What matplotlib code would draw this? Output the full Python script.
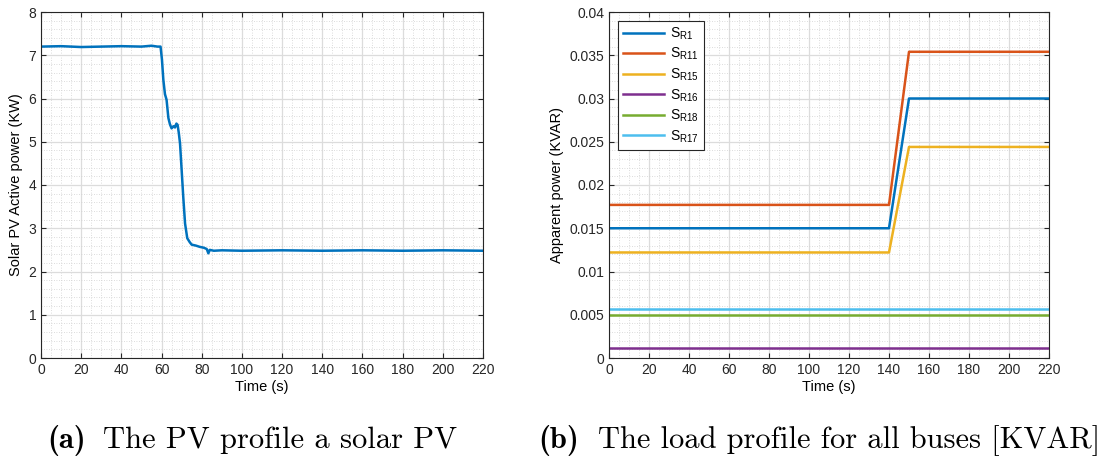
import matplotlib
matplotlib.use("Agg")
import matplotlib.pyplot as plt
from matplotlib.ticker import MultipleLocator

plt.rcParams["font.family"] = ["Liberation Sans", "DejaVu Sans"]
plt.rcParams["axes.unicode_minus"] = False

# PV active power
pv_t = [0, 10, 20, 30, 40, 50, 55, 58, 59.5, 60.2, 60.9, 61.7, 62.5, 63.4, 64.2, 65, 66,
        66.7, 67.4, 68, 68.6, 69.2, 70, 70.8, 71.7, 72.8, 74, 75, 77, 79, 81, 82.5, 83.3,
        84, 86, 90, 100, 120, 140, 160, 180, 200, 220]
pv_p = [7.2, 7.21, 7.19, 7.2, 7.21, 7.2, 7.22, 7.2, 7.2, 6.9, 6.43, 6.1, 5.97, 5.55, 5.4,
        5.31, 5.36, 5.33, 5.42, 5.39, 5.2, 4.96, 4.35, 3.73, 3.11, 2.77, 2.68, 2.62, 2.6,
        2.57, 2.55, 2.52, 2.42, 2.5, 2.48, 2.49, 2.48, 2.49, 2.48, 2.49, 2.48, 2.49, 2.48]

# load profile, panel (b): value before / after the step at 140-150 s
load_t = [0, 140, 150, 220]
load_names = ["$\\mathregular{S_{R1}}$", "$\\mathregular{S_{R11}}$", "$\\mathregular{S_{R15}}$",
              "$\\mathregular{S_{R16}}$", "$\\mathregular{S_{R18}}$", "$\\mathregular{S_{R17}}$"]
load_before = [0.0150, 0.0177, 0.0122, 0.0011, 0.0050, 0.0057]
load_after = [0.0300, 0.0354, 0.0244, 0.0011, 0.0050, 0.0057]
colors = ["#0072BD", "#D95319", "#EDB120", "#7E2F8E", "#77AC30", "#4DBEEE"]
y2_ticks = [0, 0.005, 0.01, 0.015, 0.02, 0.025, 0.03, 0.035, 0.04]
y2_labels = ["0", "0.005", "0.01", "0.015", "0.02", "0.025", "0.03", "0.035", "0.04"]


def style(ax):
    ax.set_xlim(0, 220)
    ax.xaxis.set_major_locator(MultipleLocator(20))
    ax.xaxis.set_minor_locator(MultipleLocator(5))
    ax.tick_params(which="both", direction="in", top=True, right=True, labelsize=10,
                   color="#262626", labelcolor="#262626")
    ax.tick_params(which="minor", length=0)
    ax.grid(which="major", color="#dcdcdc", lw=0.9)
    ax.grid(which="minor", color="#d0d0d0", lw=0.6, ls=(0, (1, 2)))
    ax.set_axisbelow(True)
    for s in ax.spines.values():
        s.set_color("#262626")
        s.set_linewidth(0.8)
    ax.set_xlabel("Time (s)", fontsize=10.5, labelpad=2)


fig = plt.figure(figsize=(11.06, 4.57), dpi=100)
ax1 = fig.add_axes([41 / 1106, 1 - 358 / 457, 442 / 1106, 346 / 457])
ax2 = fig.add_axes([609 / 1106, 1 - 358 / 457, 440 / 1106, 346 / 457])

ax1.plot(pv_t, pv_p, color="#0072BD", lw=1.8)
style(ax1)
ax1.set_ylim(0, 8)
ax1.yaxis.set_major_locator(MultipleLocator(1))
ax1.yaxis.set_minor_locator(MultipleLocator(0.2))
ax1.set_ylabel("Solar PV Active power (KW)", fontsize=10.5, labelpad=4)

for name, b, a, c in zip(load_names, load_before, load_after, colors):
    ax2.plot(load_t, [b, b, a, a], color=c, lw=1.8, label=name)
style(ax2)
ax2.set_ylim(0, 0.04)
ax2.set_yticks(y2_ticks, y2_labels)
ax2.yaxis.set_minor_locator(MultipleLocator(0.001))
ax2.set_ylabel("Apparent power (KVAR)", fontsize=10.5, labelpad=4)
leg = ax2.legend(loc="upper left", bbox_to_anchor=(0.02, 0.975), fontsize=10,
                 frameon=True, fancybox=False, framealpha=1, edgecolor="#262626",
                 handlelength=3.0, labelspacing=0.3, borderpad=0.35, handletextpad=0.4,
                 borderaxespad=0)
leg.get_frame().set_linewidth(0.8)

# captions, scaled to the widths measured in the reference (pixels)
cap_y = 1 - 448 / 457
captions = [("(a)", "The PV profile a solar PV", 47, 103, 457),
            ("(b)", "The load profile for all buses [KVAR]", 538, 598, 1100)]
fig.canvas.draw()
r = fig.canvas.get_renderer()
for tag, txt, x_tag, x0, x1 in captions:
    t = fig.text(x0 / 1106, cap_y, txt, fontsize=20, family="cmr10", va="baseline")
    w = t.get_window_extent(r).width
    t.set_fontsize(20 * (x1 - x0) / w)
    fig.text(x_tag / 1106, cap_y, tag, fontsize=t.get_fontsize(), family="cmb10",
             va="baseline")

fig.savefig("out.png", dpi=100, facecolor="white")
